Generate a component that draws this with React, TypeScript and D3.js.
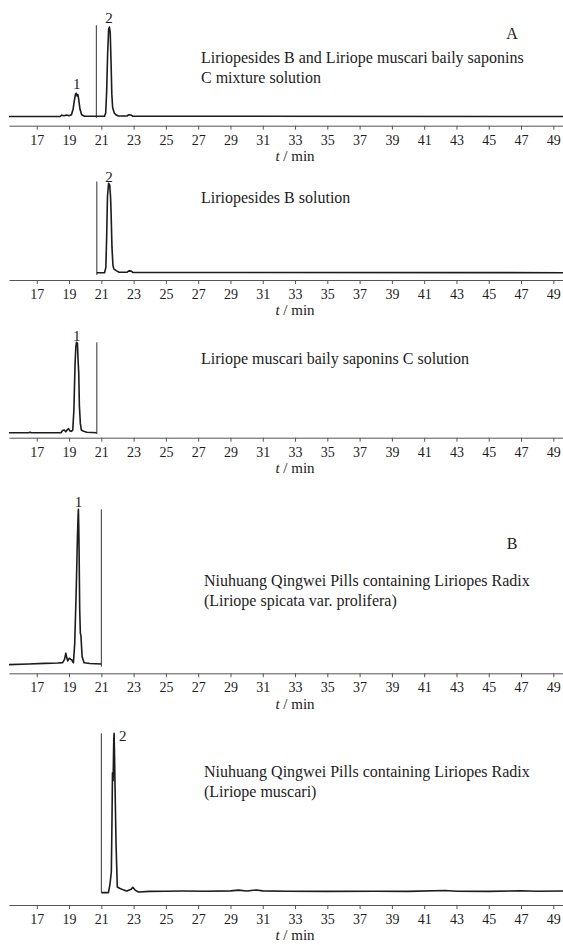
import React from "react";
import * as d3 from "d3";

const W = 563;
const H = 945;

// retention time axis
const timeTicks = [17, 19, 21, 23, 25, 27, 29, 31, 33, 35, 37, 39, 41, 43, 45, 47, 49];
const timeDomain: [number, number] = [15.28, 49.6];

// traces: [t (min), relative response, main peak = 100]
const mixTrace: [number, number][] = [
  [15.28, 0], [18.45, 0], [18.55, 1.5], [18.7, 0.8], [18.85, 1.8], [19.0, 0.9],
  [19.15, 2], [19.25, 8], [19.32, 17], [19.4, 25], [19.45, 26], [19.5, 23],
  [19.55, 24.5], [19.6, 19], [19.68, 8], [19.78, 2], [19.95, 0.3], [21.2, 0.3],
  [21.27, 4], [21.33, 28], [21.39, 70], [21.45, 97], [21.5, 100], [21.55, 94],
  [21.6, 62], [21.65, 25], [21.7, 10], [21.8, 4], [21.9, 2], [22.05, 0.5],
  [22.6, 0.5], [22.68, 1.8], [22.85, 1.6], [22.95, 0.3], [49.6, 0]
];
const bTrace: [number, number][] = [
  [20.72, 0], [21.2, 0], [21.28, 6], [21.33, 40], [21.38, 85], [21.45, 100],
  [21.52, 98], [21.57, 85], [21.6, 70], [21.66, 28], [21.72, 8], [21.78, 4],
  [21.95, 2], [22.1, 0.5], [22.6, 0.5], [22.7, 2], [22.85, 1.8], [22.95, 0.3],
  [49.6, 0]
];
const cTrace: [number, number][] = [
  [15.28, 0], [16.5, 0], [16.58, 0.6], [16.66, 0], [18.5, 0], [18.6, 2.5],
  [18.7, 3], [18.8, 1], [18.9, 3.5], [18.97, 4.5], [19.05, 2], [19.15, 1.5],
  [19.23, 3], [19.3, 25], [19.37, 75], [19.42, 95], [19.46, 100], [19.52, 99],
  [19.56, 80], [19.6, 66], [19.64, 30], [19.7, 10], [19.76, 3], [19.9, 1.5],
  [20.1, 0.5], [20.72, 0]
];
const spicataTrace: [number, number][] = [
  [15.28, -0.4], [16.5, 0], [17.5, 0.4], [18.3, 0.6], [18.6, 0.9], [18.72, 3],
  [18.8, 7], [18.86, 4], [18.92, 2], [19.0, 3.7], [19.08, 3.2], [19.17, 2.6],
  [19.27, 0.8], [19.35, 13], [19.44, 46], [19.52, 82], [19.56, 96], [19.58, 100],
  [19.6, 90], [19.62, 76], [19.66, 35], [19.7, 20], [19.74, 18], [19.77, 12],
  [19.81, 4.7], [19.93, 0.8], [20.3, 0.3], [21.0, 0]
];
const muscariTrace: [number, number][] = [
  [21.0, -0.6], [21.44, -0.6], [21.54, 5], [21.62, 12.6], [21.66, 45], [21.69, 75],
  [21.73, 70], [21.77, 96], [21.79, 100], [21.82, 85], [21.85, 66], [21.91, 30.5],
  [21.99, 3], [22.16, 2], [22.4, 1], [22.58, 0.5], [22.85, 1.5], [22.95, 2.8],
  [23.09, 1], [23.3, -0.2], [24.0, 0.2], [25.0, 0.3], [26.0, 0.4], [27.5, 0.3],
  [29.0, 0.5], [29.5, 1], [30.0, 0.4], [30.6, 1.1], [31.0, 0.5], [32.5, 0.3],
  [35, 0.2], [38, 0.3], [40, 0.2], [42.3, 0.8], [43, 0.3], [45, 0.2], [47, 0.6],
  [48, 0.3], [49.6, 0.4]
];

// splice marks: [t, bottom, top]
const markers: [number, number, number][] = [
  [20.69, -1.5, 102],
  [20.72, -2.5, 102],
  [20.72, -1.5, 100],
  [21.0, -1.7, 100],
  [21.0, -0.6, 100]
];

// peak numbers: [label, t, response]
const peakLabels: [string, number, number][][] = [
  [["1", 19.47, 26], ["2", 21.48, 100]],
  [["2", 21.48, 100]],
  [["1", 19.48, 100]],
  [["1", 19.58, 100]],
  [["2", 21.79, 100]]
];

const captions: string[][] = [
  ["Liriopesides B and Liriope muscari baily saponins", "C mixture solution"],
  ["Liriopesides B solution"],
  ["Liriope muscari baily saponins C solution"],
  ["Niuhuang Qingwei Pills containing Liriopes Radix", "(Liriope spicata var. prolifera)"],
  ["Niuhuang Qingwei Pills containing Liriopes Radix", "(Liriope muscari)"]
];
const groupLetters = ["A", "", "", "B", ""];
const traces = [mixTrace, bTrace, cTrace, spicataTrace, muscariTrace];

// layout (pixels)
const panels = [
  { base: 116.5, top: 27, axisY: 125.7, capX: 201, capY: 57, letterY: 33, labelDx: 0, labelDy: -9 },
  { base: 272.7, top: 183.3, axisY: 280, capX: 201, capY: 197, letterY: 0, labelDx: 0, labelDy: -7 },
  { base: 432.7, top: 342.3, axisY: 437.7, capX: 201, capY: 358, letterY: 0, labelDx: 0, labelDy: -7 },
  { base: 664, top: 509.3, axisY: 673.3, capX: 204, capY: 580, letterY: 543, labelDx: 0, labelDy: -8 },
  { base: 891.7, top: 733.3, axisY: 905, capX: 204, capY: 771, letterY: 0, labelDx: 5, labelDy: 2 }
];

const FONT = "'Liberation Serif', 'Times New Roman', serif";
const INK = "#1c1c1c";

export default function App() {
  const svgRef = React.useRef<SVGSVGElement>(null);
  const x = d3.scaleLinear().domain(timeDomain).range([9, W]);

  React.useEffect(() => {
    const svg = d3.select(svgRef.current);
    panels.forEach((p, i) => {
      const axis = d3
        .axisBottom(x)
        .tickValues(timeTicks)
        .tickFormat(d3.format("d"))
        .tickSize(4)
        .tickSizeOuter(0)
        .tickPadding(5);
      const g = svg.select(`.x-axis-${i}`).call(axis as any);
      g.select(".domain").attr("stroke", "#555").attr("stroke-width", 1);
      g.selectAll(".tick line").attr("stroke", "#555");
      g.selectAll(".tick text")
        .attr("fill", INK)
        .style("font-family", FONT)
        .style("font-size", "14px");
    });
  }, []);

  return (
    <svg
      ref={svgRef}
      width={W}
      height={H}
      style={{ position: "absolute", left: 0, top: 0, background: "#fff" }}
    >
      {panels.map((p, i) => {
        const y = d3.scaleLinear().domain([0, 100]).range([p.base, p.top]);
        const path = d3
          .line<[number, number]>()
          .x((d) => x(d[0]))
          .y((d) => y(d[1]));
        const [mt, m0, m1] = markers[i];
        return (
          <g key={i}>
            <line
              x1={x(mt)}
              x2={x(mt)}
              y1={y(m0)}
              y2={y(m1)}
              stroke="#333"
              strokeWidth={1}
            />
            <path d={path(traces[i]) || ""} fill="none" stroke={INK} strokeWidth={1.6} strokeLinejoin="round" />
            {peakLabels[i].map(([lab, t, v]) => (
              <text
                key={lab}
                x={x(t) + p.labelDx}
                y={y(v) + p.labelDy}
                textAnchor={p.labelDx ? "start" : "middle"}
                dy="0.35em"
                fontFamily={FONT}
                fontSize={15}
                fill={INK}
              >
                {lab}
              </text>
            ))}
            <g className={`x-axis-${i}`} transform={`translate(0,${p.axisY})`} />
            <text
              x={x(33)}
              y={p.axisY + 30}
              textAnchor="middle"
              dy="0.35em"
              fontFamily={FONT}
              fontSize={15}
              fill={INK}
            >
              <tspan fontStyle="italic">t</tspan> / min
            </text>
            {groupLetters[i] && (
              <text x={512} y={p.letterY} dy="0.35em" textAnchor="middle" fontFamily={FONT} fontSize={16} fill={INK}>
                {groupLetters[i]}
              </text>
            )}
            {captions[i].map((c, k) => (
              <text
                key={k}
                x={p.capX}
                y={p.capY + k * 20.5}
                dy="0.35em"
                fontFamily={FONT}
                fontSize={16}
                fill={INK}
              >
                {c}
              </text>
            ))}
          </g>
        );
      })}
    </svg>
  );
}
